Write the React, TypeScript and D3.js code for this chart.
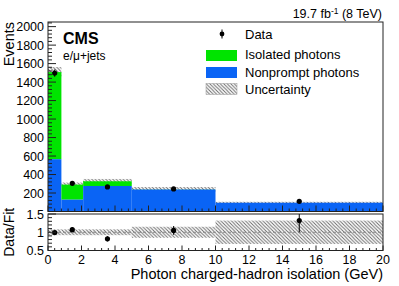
import React from 'react';
import * as d3 from 'd3';

// bin edges in photon charged-hadron isolation (GeV)
const binEdges = [0, 0.8, 2.1, 5, 10, 20];
const nonprompt = [566, 128, 276, 238, 95];
const isolated = [942, 163, 51, 2, 0];
const mcUnc = [55, 22, 25, 25, 10];
const dataVals = [1497, 305, 266, 244, 110];
const dataErr = [39, 17, 16, 16, 10];
const ratioVals = [0.99, 1.07, 0.82, 1.05, 1.32];
const ratioErr = [0.02, 0.07, 0.07, 0.12, 0.32];
const ratioUnc = [0.08, 0.08, 0.08, 0.15, 0.32];

const legendItems = ['Data', 'Isolated photons', 'Nonprompt photons', 'Uncertainty'];
const yTicksMain = [200, 400, 600, 800, 1000, 1200, 1400, 1600, 1800, 2000];
const yTicksRatio = [0.5, 1, 1.5];
const xTicks = [0, 2, 4, 6, 8, 10, 12, 14, 16, 18, 20];

const GREEN = '#00e400';
const BLUE = '#0a64f5';
const FONT = 'Liberation Sans, Arial, Helvetica, sans-serif';

const App: React.FC = () => {
  const width = 399;
  const height = 286;
  const left = 48;
  const right = 383;
  const mainTop = 22;
  const mainBottom = 211.5;
  const ratTop = 214;
  const ratBottom = 250.5;

  const x = d3.scaleLinear().domain([0, 20]).range([left, right]);
  const y = d3.scaleLinear().domain([0, 2050]).range([mainBottom, mainTop]);
  const yr = d3.scaleLinear().domain([0.5, 1.5]).range([ratBottom, ratTop]);

  const bins = nonprompt.map((np, i) => ({
    x0: binEdges[i],
    x1: binEdges[i + 1],
    np,
    tot: np + isolated[i],
    unc: mcUnc[i],
    data: dataVals[i],
    err: dataErr[i],
    r: ratioVals[i],
    rErr: ratioErr[i],
    rUnc: ratioUnc[i],
  }));

  const yMinor = d3.range(0, 2050, 40);
  const xMinor = d3.range(0, 20.01, 0.4);
  const rMinor = d3.range(0.5, 1.501, 0.1);

  return (
    <svg width={width} height={height} style={{ position: 'absolute', left: 0, top: 0 }} fontFamily={FONT}>
      <defs>
        <pattern id="hatch" patternUnits="userSpaceOnUse" width={3.5} height={3.5}>
          <rect width={3.5} height={3.5} fill="white" />
          <path d="M-1,-1 L4.5,4.5 M-1,2.5 L1,4.5 M2.5,-1 L4.5,1" stroke="#666" strokeWidth={0.9} />
        </pattern>
      </defs>
      <rect width={width} height={height} fill="white" />

      {/* main panel: uncertainty band behind the stack */}
      {bins.map((b, i) => (
        <rect key={'u' + i} x={x(b.x0)} width={x(b.x1) - x(b.x0)} y={y(b.tot + b.unc)}
          height={y(b.tot - b.unc) - y(b.tot + b.unc)} fill="url(#hatch)" />
      ))}
      {bins.map((b, i) => (
        <g key={'s' + i}>
          <rect x={x(b.x0)} width={x(b.x1) - x(b.x0)} y={y(b.tot)} height={y(b.np) - y(b.tot)} fill={GREEN} />
          <rect x={x(b.x0)} width={x(b.x1) - x(b.x0)} y={y(b.np)} height={mainBottom - y(b.np)} fill={BLUE} />
        </g>
      ))}

      {/* main frame and ticks */}
      <rect x={left} y={mainTop} width={right - left} height={mainBottom - mainTop} fill="none" stroke="#222" strokeWidth={1} />
      {yMinor.map((v) => (
        <line key={'ym' + v} x1={left} x2={left + (v % 200 === 0 ? 8 : 4)} y1={y(v)} y2={y(v)} stroke="#222" />
      ))}
      {xMinor.map((v, i) => (
        <line key={'xm' + i} x1={x(v)} x2={x(v)} y1={mainBottom} y2={mainBottom - (i % 5 === 0 ? 6 : 3)} stroke="#222" />
      ))}
      {yTicksMain.map((v) => (
        <text key={'yl' + v} x={44} y={y(v)} dy="0.36em" textAnchor="end" fontSize={12.5}>{v}</text>
      ))}

      {/* data points */}
      {bins.map((b, i) => {
        const cx = x((b.x0 + b.x1) / 2);
        return (
          <g key={'d' + i}>
            <line x1={cx} x2={cx} y1={y(b.data - b.err)} y2={y(b.data + b.err)} stroke="black" strokeWidth={1} />
            <circle cx={cx} cy={y(b.data)} r={2.6} fill="black" />
          </g>
        );
      })}

      {/* ratio panel */}
      {bins.map((b, i) => (
        <rect key={'ru' + i} x={x(b.x0)} width={x(b.x1) - x(b.x0)} y={yr(1 + b.rUnc)}
          height={yr(1 - b.rUnc) - yr(1 + b.rUnc)} fill="url(#hatch)" />
      ))}
      <line x1={left} x2={right} y1={yr(1)} y2={yr(1)} stroke="#888" strokeDasharray="3,2" />
      {bins.map((b, i) => {
        const cx = x((b.x0 + b.x1) / 2);
        return (
          <g key={'r' + i}>
            <line x1={cx} x2={cx} y1={yr(b.r - b.rErr)} y2={Math.max(ratTop, yr(b.r + b.rErr))} stroke="black" strokeWidth={1} />
            <circle cx={cx} cy={yr(b.r)} r={2.6} fill="black" />
          </g>
        );
      })}
      <rect x={left} y={ratTop} width={right - left} height={ratBottom - ratTop} fill="none" stroke="#222" strokeWidth={1} />
      {rMinor.map((v, i) => (
        <line key={'rm' + i} x1={left} x2={left + (i % 5 === 0 ? 8 : 4)} y1={yr(v)} y2={yr(v)} stroke="#222" />
      ))}
      {xMinor.map((v, i) => (
        <line key={'rxm' + i} x1={x(v)} x2={x(v)} y1={ratBottom} y2={ratBottom - (i % 5 === 0 ? 5 : 2.5)} stroke="#222" />
      ))}
      {yTicksRatio.map((v) => (
        <text key={'rl' + v} x={44} y={yr(v)} dy="0.36em" textAnchor="end" fontSize={12.5}>{v}</text>
      ))}
      {xTicks.map((v) => (
        <text key={'xl' + v} x={x(v)} y={264} textAnchor="middle" fontSize={12.5}>{v}</text>
      ))}

      {/* axis titles */}
      <text x={right} y={279} textAnchor="end" fontSize={14.5}>Photon charged-hadron isolation (GeV)</text>
      <text transform={`translate(13.5,${mainTop}) rotate(-90)`} textAnchor="end" fontSize={14.5}>Events</text>
      <text transform={`translate(13.5,${(ratTop + ratBottom) / 2}) rotate(-90)`} textAnchor="middle" fontSize={14}>Data/Fit</text>

      {/* labels */}
      <text x={63} y={44} fontSize={16} fontWeight="bold">CMS</text>
      <text x={63} y={60} fontSize={12}>e/μ+jets</text>
      <text x={382} y={18} textAnchor="end" fontSize={12.5}>
        19.7 fb<tspan dy={-4} fontSize={8.5}>-1</tspan><tspan dy={4}> (8 TeV)</tspan>
      </text>

      {/* legend */}
      <g fontSize={13}>
        <line x1={222} x2={222} y1={29.5} y2={38.5} stroke="black" />
        <circle cx={222} cy={34} r={2.4} fill="black" />
        <text x={245} y={38.5}>{legendItems[0]}</text>
        <rect x={206} y={50} width={31} height={11} fill={GREEN} />
        <text x={245} y={58.5}>{legendItems[1]}</text>
        <rect x={206} y={67} width={31} height={11} fill={BLUE} />
        <text x={245} y={76.5}>{legendItems[2]}</text>
        <rect x={206} y={83.5} width={31} height={11} fill="url(#hatch)" stroke="#999" strokeWidth={0.5} />
        <text x={245} y={94}>{legendItems[3]}</text>
      </g>
    </svg>
  );
};

export default App;
